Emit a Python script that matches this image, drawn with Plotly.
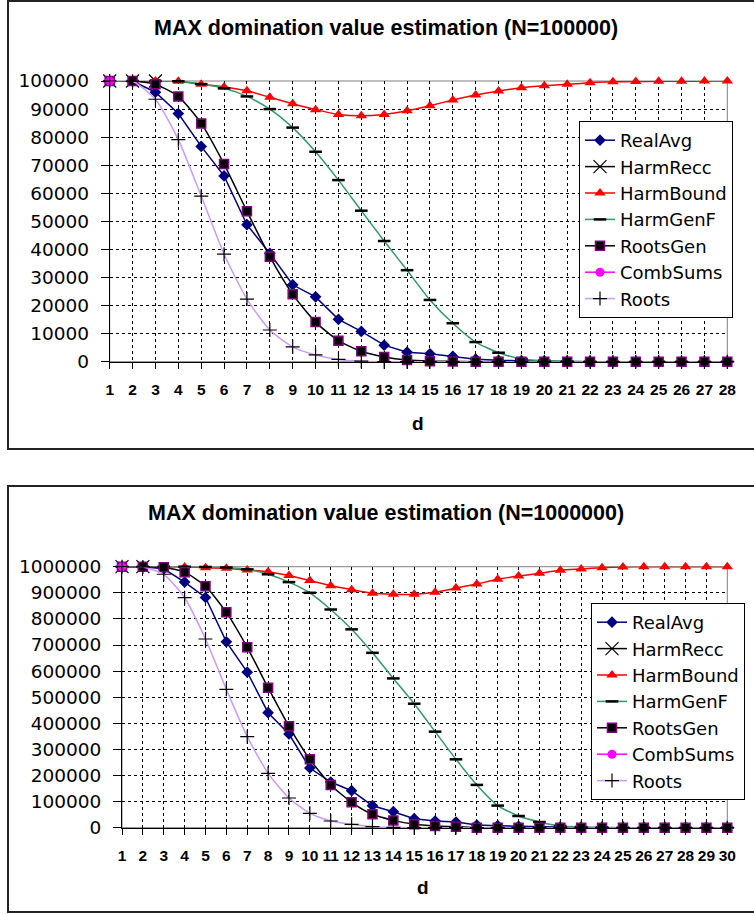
import plotly.graph_objects as go

W, H = 754, 914

# ---------------- data ----------------
d_100k = list(range(1, 29))
d_1m = list(range(1, 31))

real_avg_100k = [100000, 100000, 96000, 88400, 76700, 66200, 48800, 38600, 27400, 23100,
                 15100, 10800, 5900, 3400, 2800, 1900, 900, 500, 300, 200,
                 100, 0, 0, 0, 0, 0, 0, 0]
harm_recc_100k = [100000, 100000, 100000]
harm_bound_100k = [100000, 100000, 100000, 99900, 98800, 97900, 96500, 94200, 91900, 89800,
                   88100, 87600, 88100, 89400, 91200, 93200, 95000, 96400, 97600, 98300,
                   98800, 99400, 99700, 99800, 99900, 99900, 100000, 100000]
harm_genf_100k = [100000, 100000, 100000, 99900, 98900, 97400, 94500, 90000, 83400, 74800,
                  64700, 53800, 43000, 32600, 22000, 13700, 7000, 3200, 1000, 400,
                  100, 0, 0, 0, 0, 0, 0, 0]
roots_gen_100k = [100000, 100000, 98800, 94500, 84900, 70400, 53600, 37400, 24000, 14100,
                  7500, 3700, 1700, 600, 200, 100, 0, 0, 0, 0,
                  0, 0, 0, 0, 0, 0, 0, 0]
comb_sums_100k = [100000]
roots_100k = [100000, 99900, 93500, 79100, 59000, 38300, 22300, 11300, 5300, 2400,
              800, 200, 0, 0, 0, 0, 0, 0, 0, 0,
              0, 0, 0, 0, 0, 0, 0, 0]

real_avg_1m = [1000000, 1000000, 992000, 941000, 882000, 712000, 596000, 440600, 359000, 228700,
               175000, 141800, 84300, 61300, 34500, 25700, 21800, 10300, 7700, 5400,
               3000, 1500, 500, 0, 0, 0, 0, 0, 0, 0]
harm_recc_1m = [1000000, 1000000]
harm_bound_1m = [1000000, 1000000, 1000000, 999000, 996000, 994000, 987000, 981000, 966000, 947000,
                 927000, 912000, 898000, 894000, 894000, 902000, 918000, 933700, 951700, 964000,
                 974700, 986000, 991000, 996000, 998800, 1000000, 1000000, 1000000, 1000000, 1000000]
harm_genf_1m = [1000000, 1000000, 1000000, 1000000, 999000, 997000, 990000, 971000, 941000, 900000,
                836000, 760000, 670000, 572000, 475000, 368000, 262000, 164000, 84700, 44800,
                21800, 6500, 3000, 1000, 0, 0, 0, 0, 0, 0]
roots_gen_1m = [1000000, 1000000, 998000, 979000, 925000, 825000, 691000, 536400, 388500, 262000,
                163600, 97300, 51300, 28000, 13000, 6500, 4000, 0, 0, 0,
                0, 0, 0, 0, 0, 0, 0, 0, 0, 0]
comb_sums_1m = [1000000]
roots_1m = [1000000, 999000, 971000, 881200, 723000, 530300, 348700, 208400, 113800, 55200,
            25700, 13000, 4000, 1000, 0, 0, 0, 0, 0, 0,
            0, 0, 0, 0, 0, 0, 0, 0, 0, 0]

series_names = ["RealAvg", "HarmRecc", "HarmBound", "HarmGenF", "RootsGen", "CombSums", "Roots"]
titles = ["MAX domination value estimation (N=100000)", "MAX domination value estimation (N=1000000)"]
x_title = "d"

# ---------------- styles ----------------
styles = {
    "RealAvg": dict(line=dict(color="#000080", width=1.5),
                    marker=dict(symbol="diamond", size=9, color="#000080")),
    "HarmRecc": dict(line=dict(color="#000000", width=1.5),
                     marker=dict(symbol="x-thin-open", size=13, color="#000000", line=dict(width=1.2, color="#000000"))),
    "HarmBound": dict(line=dict(color="#FF0000", width=1.5, shape="spline", smoothing=0.6),
                      marker=dict(symbol="triangle-up", size=10, color="#FF0000")),
    "HarmGenF": dict(line=dict(color="#339966", width=1.5, shape="spline", smoothing=0.6),
                     marker=dict(symbol="line-ew-open", size=9, color="#000000", line=dict(width=2.5, color="#000000"))),
    "RootsGen": dict(line=dict(color="#000000", width=1.5, shape="spline", smoothing=0.6),
                     marker=dict(symbol="square", size=9, color="#000000", line=dict(width=1.5, color="#800080"))),
    "CombSums": dict(line=dict(color="#FF00FF", width=1.5),
                     marker=dict(symbol="circle", size=9, color="#FF00FF")),
    "Roots": dict(line=dict(color="#CC99FF", width=1.5, shape="spline", smoothing=0.6),
                  marker=dict(symbol="cross-thin-open", size=10, color="#000000", line=dict(width=1.2, color="#000000"))),
}

fig = go.Figure()

datasets = [
    (d_100k, [real_avg_100k, harm_recc_100k, harm_bound_100k, harm_genf_100k,
              roots_gen_100k, comb_sums_100k, roots_100k], "x", "y", "legend"),
    (d_1m, [real_avg_1m, harm_recc_1m, harm_bound_1m, harm_genf_1m,
            roots_gen_1m, comb_sums_1m, roots_1m], "x2", "y2", "legend2"),
]

for dvals, ys, xa, ya, lg in datasets:
    for name, yv in zip(series_names, ys):
        st = styles[name]
        fig.add_trace(go.Scatter(
            x=dvals[:len(yv)], y=yv, name=name, mode="lines+markers",
            line=st["line"], marker=st["marker"], xaxis=xa, yaxis=ya,
            legend=lg, cliponaxis=False,
        ))

def px_x(p):
    return p / W

def px_y(p):
    return 1 - p / H

grid = dict(showgrid=True, gridcolor="#000000", gridwidth=1, griddash="3px,3px",
            zeroline=False, showline=True, linecolor="#000000", linewidth=1,
            ticks="outside", tickcolor="#000000", tickwidth=1, automargin=False)

xfont = dict(family="Liberation Sans, Arial", size=15.5, color="#000000", weight="bold")
yfont = dict(family="DejaVu Sans", size=18.5, color="#000000")

fig.update_layout(
    width=W, height=H, margin=dict(l=0, r=0, t=0, b=0),
    paper_bgcolor="white", plot_bgcolor="white",
    font=dict(family="DejaVu Sans", color="#000000"),
    xaxis=dict(domain=[px_x(109.7), px_x(727.3)], range=[1, 28], tickvals=d_100k,
               anchor="y", ticklen=6, tickfont=xfont, ticklabelstandoff=8, **grid),
    yaxis=dict(domain=[px_y(361.7), px_y(81)], range=[0, 100000], dtick=10000, tickformat="d",
               anchor="x", ticklen=8, tickfont=yfont, ticklabelstandoff=8, **grid),
    xaxis2=dict(domain=[px_x(122), px_x(727.3)], range=[1, 30], tickvals=d_1m,
                anchor="y2", ticklen=6, tickfont=xfont, ticklabelstandoff=8, **grid),
    yaxis2=dict(domain=[px_y(827.7), px_y(566.7)], range=[0, 1000000], dtick=100000, tickformat="d",
                anchor="x2", ticklen=8, tickfont=yfont, ticklabelstandoff=8, **grid),
    legend=dict(x=px_x(579), y=px_y(121), xanchor="left", yanchor="top",
                bgcolor="white", bordercolor="#000000", borderwidth=1,
                font=dict(family="DejaVu Sans", size=18, color="#000000"),
                tracegroupgap=0),
    legend2=dict(x=px_x(591), y=px_y(603), xanchor="left", yanchor="top",
                 bgcolor="white", bordercolor="#000000", borderwidth=1,
                 font=dict(family="DejaVu Sans", size=18, color="#000000"),
                 tracegroupgap=0),
    showlegend=True,
)

# chart-area boxes
fig.add_shape(type="rect", xref="paper", yref="paper", x0=px_x(8), x1=px_x(770),
              y0=px_y(449), y1=px_y(1), line=dict(color="#222222", width=2), layer="below")
fig.add_shape(type="rect", xref="paper", yref="paper", x0=px_x(8), x1=px_x(770),
              y0=px_y(912), y1=px_y(486), line=dict(color="#222222", width=2), layer="below")
# plot-area borders (grey)
for xa, ya in (("x", "y"), ("x2", "y2")):
    fig.add_shape(type="rect", xref=xa + " domain", yref=ya + " domain", x0=0, x1=1, y0=0, y1=1,
                  line=dict(color="#808080", width=1), layer="below")

# titles
title_font = dict(family="Liberation Sans, Arial", size=21.5, color="#000000", weight="bold")
fig.add_annotation(text=titles[0], x=px_x(386.3), y=px_y(28.3), xref="paper", yref="paper",
                   showarrow=False, font=title_font, xanchor="center", yanchor="middle")
fig.add_annotation(text=titles[1], x=px_x(386.3), y=px_y(513.3), xref="paper", yref="paper",
                   showarrow=False, font=title_font, xanchor="center", yanchor="middle")
dfont = dict(family="Liberation Sans, Arial", size=19, color="#000000", weight="bold")
fig.add_annotation(text=x_title, x=px_x(418), y=px_y(423), xref="paper", yref="paper",
                   showarrow=False, font=dfont, xanchor="center", yanchor="middle")
fig.add_annotation(text=x_title, x=px_x(423), y=px_y(887), xref="paper", yref="paper",
                   showarrow=False, font=dfont, xanchor="center", yanchor="middle")

fig.write_html("out.html", config={"displayModeBar": False},
               post_script="document.body.style.margin='0';document.body.style.overflow='hidden';")
